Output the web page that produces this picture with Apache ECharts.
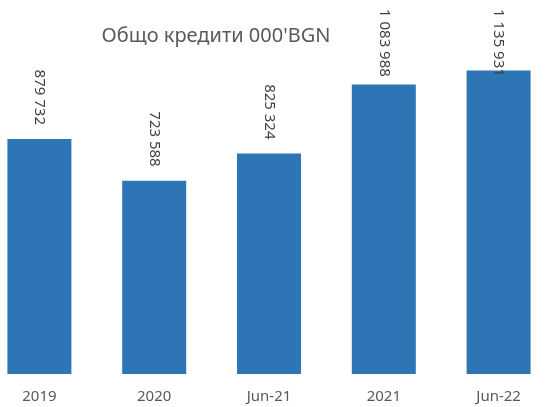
<!DOCTYPE html>
<html>
<head>
<meta charset="utf-8">
<script src="https://cdn.jsdelivr.net/npm/echarts@6/dist/echarts.min.js"></script>
<style>
  html, body { margin: 0; padding: 0; background: #fff; overflow: hidden; }
  /* the original plot is cropped on the left, so the chart is shifted */
  #chart { width: 574px; height: 407px; margin-left: -18px; }
</style>
</head>
<body>
<div id="chart"></div>
<script>
const categories = ['2019', '2020', 'Jun-21', '2021', 'Jun-22'];
const loans = [879732, 723588, 825324, 1083988, 1135931];

const labelFont = '15px "Noto Sans"';

function formatValue(v) {
  return String(v).replace(/\B(?=(\d{3})+(?!\d))/g, ' ');
}

const chart = echarts.init(document.getElementById('chart'));

chart.setOption({
  animation: false,
  title: {
    text: "Общо кредити 000'BGN",
    left: 229,
    top: 21,
    textAlign: 'center',
    textStyle: {
      fontFamily: 'Noto Sans',
      fontSize: 20,
      fontWeight: 'normal',
      color: '#595959',
    },
  },
  grid: {
    left: 0,
    right: 0,
    top: 0,
    height: 374,
  },
  xAxis: {
    type: 'category',
    data: categories,
    axisLine: { show: false },
    axisTick: { show: false },
    axisLabel: {
      margin: 15,
      fontFamily: 'Noto Sans',
      fontSize: 15,
      color: '#595959',
    },
  },
  yAxis: {
    type: 'value',
    min: 0,
    max: 1400000,
    show: false,
    splitLine: { show: false },
  },
  series: [
    {
      type: 'bar',
      data: loans,
      barWidth: 64,
      itemStyle: { color: '#2E75B6' },
      label: {
        show: true,
        position: 'top',
        distance: 14,
        rotate: -90,
        align: 'right',
        verticalAlign: 'middle',
        fontFamily: 'Noto Sans',
        fontSize: 15,
        color: '#404040',
        formatter: (p) => formatValue(p.value),
      },
    },
  ],
});

// keep labels inside the plot top, like the original
const ctx = document.createElement('canvas').getContext('2d');
ctx.font = labelFont;
const minTop = 9;
const data = loans.map((v, i) => {
  const top = chart.convertToPixel({ yAxisIndex: 0 }, v);
  const len = ctx.measureText(formatValue(v)).width;
  const start = top - 14 - len;
  if (start >= minTop) {
    return v;
  }
  const shift = minTop - start;
  return { value: v, label: { offset: [shift, 0] } };
});
chart.setOption({ series: [{ data: data }] });
</script>
</body>
</html>
